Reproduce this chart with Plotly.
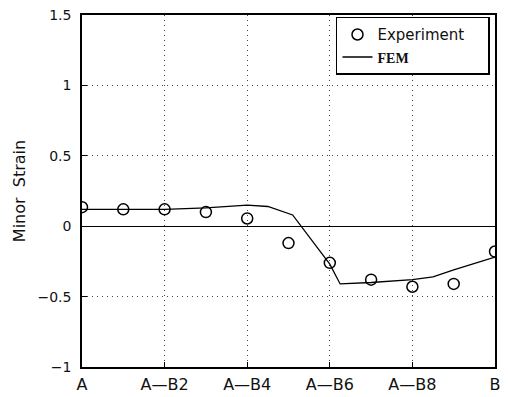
import plotly.graph_objects as go

tick_vals = [0, 2, 4, 6, 8, 10]
tick_text = ["A", "A\u2014B2", "A\u2014B4", "A\u2014B6", "A\u2014B8", "B"]

y_tick_vals = [-1, -0.5, 0, 0.5, 1, 1.5]
y_tick_text = ["\u22121", "\u22120.5", "0", "0.5", "1", "1.5"]

exp_x = [0, 1, 2, 3, 4, 5, 6, 7, 8, 9, 10]
exp_y = [0.135, 0.12, 0.12, 0.10, 0.055, -0.12, -0.26, -0.38, -0.43, -0.41, -0.18]

fem_x = [0, 1, 2, 3, 4, 4.5, 5.1, 6, 6.25, 7, 8, 8.5, 9, 10]
fem_y = [0.12, 0.12, 0.12, 0.13, 0.15, 0.14, 0.08, -0.27, -0.41, -0.40, -0.38, -0.36, -0.31, -0.22]

FONT = "DejaVu Sans"

fig = go.Figure()
fig.add_trace(go.Scatter(
    x=exp_x, y=exp_y, mode="markers", name="Experiment\u00a0\u00a0\u00a0\u00a0",
    marker=dict(symbol="circle-open", size=11, color="black", line=dict(width=1.5)),
))
fig.add_trace(go.Scatter(
    x=fem_x, y=fem_y, mode="lines",
    name='<span style="font-family:Liberation Serif;font-weight:bold;font-size:14px">FEM</span>',
    line=dict(color="black", width=1.3),
))

axis_common = dict(
    showline=True, linecolor="black", linewidth=1.5, mirror=True,
    showgrid=True, gridcolor="#444", griddash="1px,4px", gridwidth=1,
    ticks="inside", ticklen=5, tickcolor="black",
    automargin=False,
)

fig.update_xaxes(range=[0, 10], tickvals=tick_vals, ticktext=tick_text,
                 zeroline=False, tickfont=dict(family=FONT, size=16, color="#111"),
                 ticklabelstandoff=2, **axis_common)
fig.update_yaxes(range=[-1, 1.5], tickvals=y_tick_vals, ticktext=y_tick_text,
                 zeroline=True, zerolinecolor="black", zerolinewidth=1.3,
                 tickfont=dict(family=FONT, size=14, color="#111"),
                 ticklabelstandoff=6,
                 title=dict(text="Minor  Strain", font=dict(family=FONT, size=16, color="#111"),
                            standoff=8),
                 **axis_common)

fig.update_layout(
    width=508, height=397,
    margin=dict(l=82, r=13, t=15, b=30),
    plot_bgcolor="white", paper_bgcolor="white",
    showlegend=True,
    legend=dict(x=0.615, y=0.995, xanchor="left", yanchor="top",
                bordercolor="black", borderwidth=1.5, bgcolor="white",
                font=dict(family=FONT, size=15, color="#111"),
                tracegroupgap=0, itemwidth=30),
)

fig.write_html("out.html", config={"displayModeBar": False},
               post_script="document.body.style.margin='0';document.body.style.padding='0';document.body.style.overflow='hidden';")
